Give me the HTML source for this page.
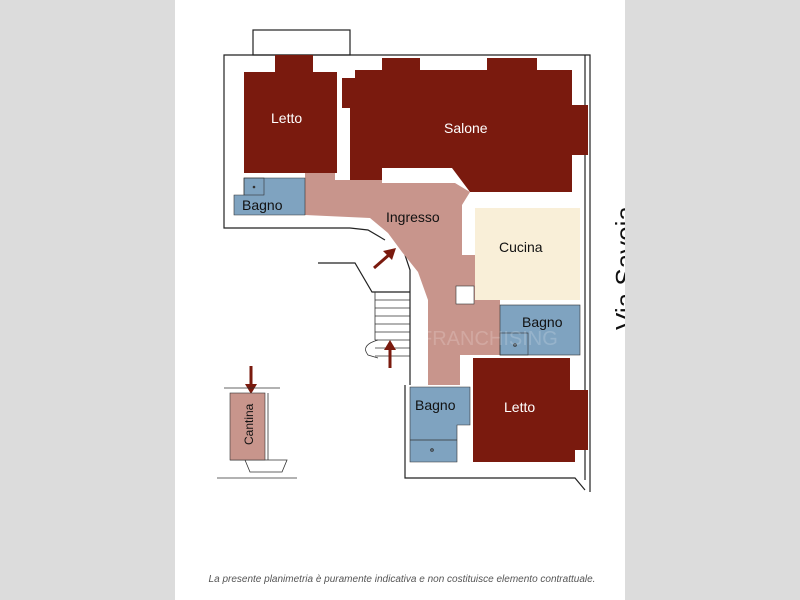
<!DOCTYPE html>
<html><head><meta charset="utf-8"><style>
html,body{margin:0;padding:0;background:#dcdcdc;}
svg{display:block}
text{font-family:"Liberation Sans",Arial,sans-serif}
</style></head><body>
<svg width="800" height="600" viewBox="0 0 800 600" xmlns="http://www.w3.org/2000/svg">
<rect x="0" y="0" width="800" height="600" fill="#dcdcdc"/>
<rect x="175" y="0" width="450" height="600" fill="#ffffff"/>
<text transform="translate(634,330) rotate(-90)" font-size="26" fill="#111">Via Savoia</text>
<rect x="625" y="0" width="175" height="600" fill="#dcdcdc"/>

<g stroke="#222" stroke-width="1.2" fill="none">
<rect x="253" y="30" width="97" height="25" fill="#fff"/>
<polyline points="350,228 224,228 224,55 590,55 590,492"/>
<polyline points="350,228 368,230 385,240"/>
<line x1="585" y1="55" x2="585" y2="480"/>
<polyline points="405,255 410,270 410,385"/>
<polyline points="405,385 405,478 575,478 585,490"/>
<polyline points="318,263 355,263 372,292 410,292"/>
</g>

<polygon points="244,72 275,72 275,55 313,55 313,72 337,72 337,173 244,173" fill="#7a1a0e"/>
<polygon points="342,78 355,78 355,70 382,70 382,58 420,58 420,70 487,70 487,58 537,58 537,70 572,70 572,105 588,105 588,155 572,155 572,192 470,192 452,168 382,168 382,180 350,180 350,108 342,108" fill="#7a1a0e"/>
<polygon points="305,173 335,173 335,180 382,180 382,183 455,183 470,192 462,205 462,255 475,255 475,300 500,300 500,355 472,355 460,355 460,385 428,385 428,300 418,272 402,252 388,233 370,218 305,215" fill="#c8958c"/>
<polygon points="244,178 305,178 305,215 234,215 234,195 244,195" fill="#7fa3c0" stroke="#333" stroke-width="0.6"/>
<rect x="244" y="178" width="20" height="17" fill="none" stroke="#333" stroke-width="0.6"/>
<circle cx="254" cy="187" r="1.3" fill="#333"/>
<rect x="475" y="208" width="105" height="92" fill="#f9efd8"/>
<rect x="456" y="286" width="18" height="18" fill="#fff" stroke="#333" stroke-width="0.6"/>
<rect x="500" y="305" width="80" height="50" fill="#7fa3c0" stroke="#333" stroke-width="0.6"/>
<rect x="500" y="333" width="28" height="22" fill="none" stroke="#333" stroke-width="0.6"/>
<circle cx="515" cy="345" r="1.3" fill="none" stroke="#333"/>
<polygon points="473,358 570,358 570,390 588,390 588,450 575,450 575,462 473,462" fill="#7a1a0e"/>
<polygon points="410,387 470,387 470,425 457,425 457,462 410,462" fill="#7fa3c0" stroke="#333" stroke-width="0.6"/>
<line x1="410" y1="440" x2="457" y2="440" stroke="#333" stroke-width="0.8"/>
<circle cx="432" cy="450" r="1.3" fill="none" stroke="#333"/>
<g stroke="#333" stroke-width="0.8" fill="none">
<path d="M375,292 L375,340 M375,300 H410 M375,308 H410 M375,316 H410 M375,324 H410 M375,332 H410 M375,340 H410 M375,348 H410 M375,356 H410"/>
<path d="M378,340 Q360,345 368,355 L378,358"/>
</g>
<g fill="#7a1a0e" stroke="#7a1a0e">
<line x1="374" y1="268" x2="390" y2="254" stroke-width="3"/>
<polygon points="396,248 383,251 392,260" stroke="none"/>
<line x1="390" y1="368" x2="390" y2="348" stroke-width="3"/>
<polygon points="390,340 384,350 396,350" stroke="none"/>
<line x1="251" y1="366" x2="251" y2="386" stroke-width="3"/>
<polygon points="251,394 245,384 257,384" stroke="none"/>
</g>
<g stroke="#333" stroke-width="0.8" fill="none">
<polyline points="224,388 280,388"/>
<polyline points="268,393 268,460"/>
<polyline points="245,460 250,472 282,472 287,460 230,460"/>
<line x1="217" y1="478" x2="297" y2="478"/>
</g>
<rect x="230" y="393" width="35" height="67" fill="#c8958c" stroke="#333" stroke-width="0.6"/>
<text transform="translate(253,445) rotate(-90)" font-size="12" fill="#111">Cantina</text>

<g font-size="14">
<text x="271" y="123" fill="#fff">Letto</text>
<text x="444" y="133" fill="#fff">Salone</text>
<text x="242" y="210" fill="#111">Bagno</text>
<text x="386" y="222" fill="#111">Ingresso</text>
<text x="499" y="252" fill="#111">Cucina</text>
<text x="522" y="327" fill="#111">Bagno</text>
<text x="504" y="412" fill="#fff">Letto</text>
<text x="415" y="410" fill="#111">Bagno</text>
</g>
<text x="420" y="345" font-size="20" fill="#ffffff" opacity="0.18">FRANCHISING</text>

<text x="402" y="582" font-size="10" font-style="italic" fill="#555" text-anchor="middle">La presente planimetria è puramente indicativa e non costituisce elemento contrattuale.</text>
</svg>
</body></html>
